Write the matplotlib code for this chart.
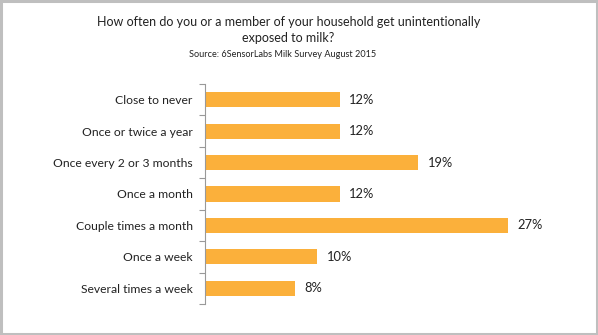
import matplotlib.pyplot as plt
from matplotlib.patches import Rectangle

plt.rcParams['font.family'] = ['Lato', 'DejaVu Sans']

categories = ["Close to never", "Once or twice a year", "Once every 2 or 3 months",
              "Once a month", "Couple times a month", "Once a week", "Several times a week"]
values = [12, 12, 19, 12, 27, 10, 8]

fig = plt.figure(figsize=(5.98, 3.35), dpi=100)
ax = fig.add_axes([0.343, 0.0925, 0.563, 0.657])

ypos = list(range(len(categories)))
ax.barh(ypos, values, height=0.48, color="#FBB03B")
for y, v in zip(ypos, values):
    ax.text(v + 0.85, y, f"{v}%", va="center", ha="left", fontsize=9.3, color="#222222")

ax.set_xlim(0, 30)
ax.set_ylim(len(categories) - 0.5, -0.5)
ax.set_yticks(ypos)
ax.set_yticklabels(categories, fontsize=8.7, color="#222222")
ax.tick_params(axis="y", which="major", length=0, pad=9)
ax.set_yticks([i - 0.5 for i in range(len(categories) + 1)], minor=True)
ax.tick_params(axis="y", which="minor", length=4, color="#999999", width=0.8)
ax.set_xticks([])
for s in ["top", "right", "bottom"]:
    ax.spines[s].set_visible(False)
ax.spines["left"].set_color("#999999")
ax.spines["left"].set_linewidth(0.8)

fig.text(0.482, 0.933, "How often do you or a member of your household get unintentionally",
         ha="center", va="center", fontsize=9.0, color="#222222")
fig.text(0.482, 0.886, "exposed to milk?", ha="center", va="center", fontsize=9.0, color="#222222")
fig.text(0.472, 0.838, "Source: 6SensorLabs Milk Survey August 2015",
         ha="center", va="center", fontsize=6.6, color="#222222")

# grey frame round the whole chart
fig.patches.append(Rectangle((0.002, 0.004), 0.996, 0.992, transform=fig.transFigure,
                             fill=False, edgecolor="#BFBFBF", linewidth=2.2))

fig.savefig("out.png", dpi=100)
